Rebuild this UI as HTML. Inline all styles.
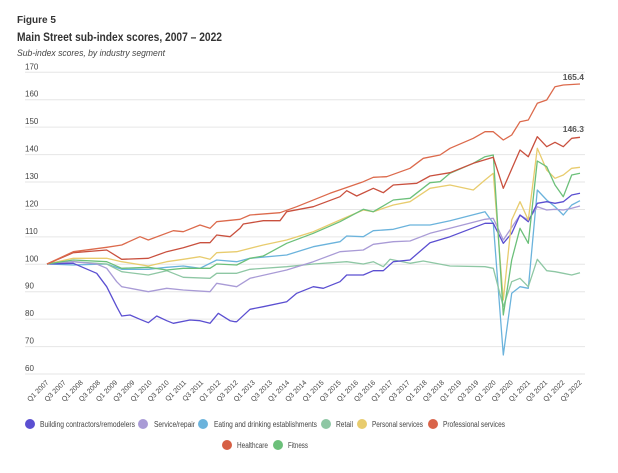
<!DOCTYPE html>
<html><head><meta charset="utf-8"><style>
body{margin:0;background:#fff;width:618px;height:468px;overflow:hidden;font-family:"Liberation Sans",sans-serif;}
</style></head><body>
<svg id="s" width="618" height="468" xmlns="http://www.w3.org/2000/svg" font-family="Liberation Sans, sans-serif">
<text x="17" y="23" font-size="10.5" font-weight="bold" fill="#333" textLength="39" lengthAdjust="spacingAndGlyphs">Figure 5</text>
<text x="17" y="41" font-size="12" font-weight="bold" fill="#333" textLength="205" lengthAdjust="spacingAndGlyphs">Main Street sub-index scores, 2007 – 2022</text>
<text x="17" y="56" font-size="9" font-style="italic" fill="#444" textLength="148" lengthAdjust="spacingAndGlyphs">Sub-index scores, by industry segment</text>
<g id="grid"></g><g id="lines" fill="none" stroke-width="1.3" stroke-linejoin="round"></g><g id="xl"></g>
<text x="584" y="80" font-size="8.5" font-weight="bold" fill="#555" text-anchor="end">165.4</text>
<text x="584" y="132" font-size="8.5" font-weight="bold" fill="#555" text-anchor="end">146.3</text>
<g font-size="8" fill="#444" lengthAdjust="spacingAndGlyphs">
<circle cx="30" cy="424" r="5" fill="#5b4fd1"/><text x="40" y="427" textLength="95" lengthAdjust="spacingAndGlyphs">Building contractors/remodelers</text>
<circle cx="143" cy="424" r="5" fill="#a99bd6"/><text x="154" y="427" textLength="41" lengthAdjust="spacingAndGlyphs">Service/repair</text>
<circle cx="203" cy="424" r="5" fill="#6bb3dc"/><text x="214" y="427" textLength="103" lengthAdjust="spacingAndGlyphs">Eating and drinking establishments</text>
<circle cx="326" cy="424" r="5" fill="#8ec7a4"/><text x="336" y="427" textLength="17" lengthAdjust="spacingAndGlyphs">Retail</text>
<circle cx="362" cy="424" r="5" fill="#e8cc6e"/><text x="372" y="427" textLength="51" lengthAdjust="spacingAndGlyphs">Personal services</text>
<circle cx="433" cy="424" r="5" fill="#d9644a"/><text x="443" y="427" textLength="62" lengthAdjust="spacingAndGlyphs">Professional services</text>
<circle cx="227" cy="445" r="5" fill="#d65f44"/><text x="237" y="448" textLength="31" lengthAdjust="spacingAndGlyphs">Healthcare</text>
<circle cx="278" cy="445" r="5" fill="#6cc07a"/><text x="288" y="448" textLength="20" lengthAdjust="spacingAndGlyphs">Fitness</text>
</g>
</svg>
<script>
var NS="http://www.w3.org/2000/svg";
function el(p,t,a,txt){var e=document.createElementNS(NS,t);for(var k in a)e.setAttribute(k,a[k]);if(txt)e.textContent=txt;document.getElementById(p).appendChild(e);}
for(var i=0;i<12;i++){var v=170-i*10,y=72.3+i*27.43;el("grid","line",{x1:25,x2:585,y1:y,y2:y,stroke:"#e6e6e6","stroke-width":1});el("grid","text",{x:25,y:y-3,"font-size":8,fill:"#444"},String(v));}
for(var j=0;j<32;j++){var x=47+j*17.2,q=(j%2?"Q3 ":"Q1 ")+(2007+Math.floor(j/2));el("xl","text",{x:0,y:0,"font-size":7,fill:"#444","text-anchor":"end",transform:"translate("+(x+2)+",383) rotate(-45)"},q);}
function S(a,b,c){var o=[];a.forEach(function(p){o.push([30+p[0]/3,60+p[1]/3]);});b.forEach(function(p){o.push([230+p[0]/3,60+p[1]/3]);});c.forEach(function(p){o.push([440+p[0]/3,60+p[1]/3]);});return o;}
var D=[
["#6bb3dc",S([[51,612],[130,615],[230,612],[275,628],[355,628],[410,622],[460,618],[510,625],[560,600]],[[20,605],[60,595],[170,585],[250,560],[330,545],[350,528],[400,530],[430,512],[490,508],[540,495],[600,495],[660,482]],[[135,455],[160,490],[190,885],[215,700],[240,680],[265,685],[292,390],[320,420],[345,440],[370,465],[395,435],[420,422]])],
["#8ec7a4",S([[51,612],[130,605],[230,612],[275,635],[355,645],[410,632],[460,652],[540,655],[560,640]],[[20,640],[60,628],[170,620],[250,612],[350,605],[400,612],[430,605],[460,620],[480,598],[540,610],[580,603],[660,618]],[[135,620],[160,625],[190,740],[215,665],[240,655],[265,680],[292,598],[320,632],[345,635],[370,640],[395,645],[420,638]])],
["#a99bd6",S([[51,612],[130,605],[200,612],[230,625],[260,665],[275,680],[355,695],[410,685],[460,690],[540,695],[560,670]],[[20,680],[60,655],[170,630],[250,605],[330,575],[400,570],[430,553],[490,545],[540,543],[600,520],[660,505]],[[135,478],[160,475],[190,540],[240,465],[265,480],[292,440],[320,450],[345,448],[370,450],[395,445],[420,438]])],
["#5b4fd1",S([[51,612],[130,610],[200,640],[230,680],[260,740],[275,768],[300,765],[330,778],[355,788],[380,768],[410,782],[430,790],[480,780],[510,782],[540,790],[565,760],[600,782],[615,785]],[[20,785],[60,748],[100,740],[170,725],[200,700],[250,680],[280,685],[330,665],[350,645],[400,645],[430,632],[460,632],[490,605],[540,600],[600,548],[660,530]],[[135,490],[160,490],[190,550],[215,520],[240,465],[265,485],[292,430],[320,425],[345,430],[370,425],[395,405],[420,400]])],
["#e8cc6e",S([[51,612],[130,595],[230,595],[275,605],[355,618],[410,605],[460,598],[510,590],[540,598],[560,578]],[[20,575],[100,555],[170,540],[250,515],[330,480],[400,450],[430,455],[490,435],[540,425],[600,385],[660,375]],[[100,390],[135,360],[160,340],[190,720],[215,480],[240,425],[265,480],[292,265],[320,330],[345,355],[370,345],[395,325],[420,322]])],
["#6cc07a",S([[51,612],[130,600],[230,605],[275,625],[355,622],[410,630],[460,625],[540,625],[560,612]],[[20,615],[60,595],[100,588],[170,550],[250,520],[330,485],[400,448],[430,455],[490,420],[540,415],[600,368],[630,365],[660,340]],[[100,310],[135,290],[160,285],[190,765],[215,600],[240,505],[265,550],[292,303],[320,320],[345,375],[370,410],[395,345],[420,340]])],
["#c9503e",S([[51,612],[130,578],[230,570],[275,598],[355,595],[410,575],[460,563],[510,548],[540,548],[560,525],[600,530],[630,505]],[[40,492],[100,482],[150,482],[170,455],[250,440],[330,410],[350,392],[380,408],[430,385],[460,398],[490,375],[560,370],[600,348],[660,338]],[[100,310],[160,292],[190,385],[240,270],[265,290],[292,230],[320,260],[345,247],[370,260],[395,235],[420,232]])],
["#dc6a4c",S([[51,612],[130,575],[230,562],[275,555],[330,530],[355,540],[430,512],[460,515],[510,495],[540,505],[560,485],[630,478]],[[60,465],[150,458],[200,440],[300,400],[400,365],[430,352],[470,350],[540,325],[580,295],[630,285],[660,265]],[[100,235],[135,215],[160,215],[190,240],[215,225],[240,185],[265,180],[292,130],[320,120],[345,80],[370,75],[420,72]])]
];
D.forEach(function(s){el("lines","polyline",{points:s[1].map(function(p){return p[0].toFixed(1)+","+p[1].toFixed(1);}).join(" "),stroke:s[0]});});
</script>
</body></html>
